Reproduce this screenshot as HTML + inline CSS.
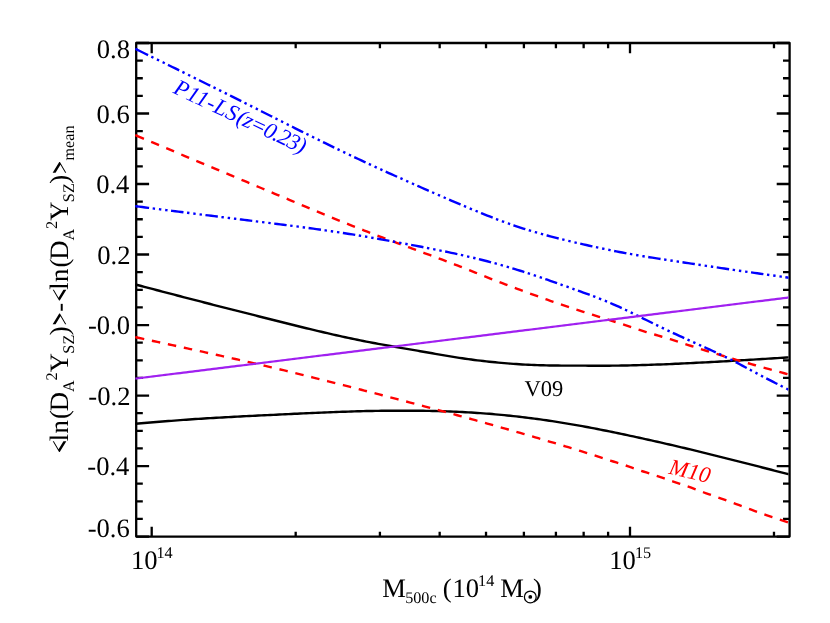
<!DOCTYPE html>
<html lang="en"><head><meta charset="utf-8"><title>SZ scaling relation comparison</title>
<style>html,body{margin:0;padding:0;background:#fff;}body{width:830px;height:623px;overflow:hidden;font-family:"Liberation Serif",serif;}svg{display:block;will-change:transform;}</style></head>
<body>
<svg width="830" height="623" viewBox="0 0 830 623">
<rect x="0" y="0" width="830" height="623" fill="#ffffff"/>
<defs><clipPath id="pc"><rect x="135.10" y="43.00" width="653.35" height="493.55"/></clipPath></defs>
<g stroke="#000" stroke-width="2.30" fill="none" stroke-linecap="butt">
<rect x="136.20" y="43.00" width="653.40" height="493.55" stroke-linejoin="round"/>
<path d="M136.20 43.00h12.90 M789.60 43.00h-12.90 M136.20 60.63h6.60 M789.60 60.63h-6.60 M136.20 78.25h6.60 M789.60 78.25h-6.60 M136.20 95.88h6.60 M789.60 95.88h-6.60 M136.20 113.51h12.90 M789.60 113.51h-12.90 M136.20 131.13h6.60 M789.60 131.13h-6.60 M136.20 148.76h6.60 M789.60 148.76h-6.60 M136.20 166.39h6.60 M789.60 166.39h-6.60 M136.20 184.01h12.90 M789.60 184.01h-12.90 M136.20 201.64h6.60 M789.60 201.64h-6.60 M136.20 219.27h6.60 M789.60 219.27h-6.60 M136.20 236.89h6.60 M789.60 236.89h-6.60 M136.20 254.52h12.90 M789.60 254.52h-12.90 M136.20 272.15h6.60 M789.60 272.15h-6.60 M136.20 289.78h6.60 M789.60 289.78h-6.60 M136.20 307.40h6.60 M789.60 307.40h-6.60 M136.20 325.03h12.90 M789.60 325.03h-12.90 M136.20 342.66h6.60 M789.60 342.66h-6.60 M136.20 360.28h6.60 M789.60 360.28h-6.60 M136.20 377.91h6.60 M789.60 377.91h-6.60 M136.20 395.54h12.90 M789.60 395.54h-12.90 M136.20 413.16h6.60 M789.60 413.16h-6.60 M136.20 430.79h6.60 M789.60 430.79h-6.60 M136.20 448.42h6.60 M789.60 448.42h-6.60 M136.20 466.04h12.90 M789.60 466.04h-12.90 M136.20 483.67h6.60 M789.60 483.67h-6.60 M136.20 501.30h6.60 M789.60 501.30h-6.60 M136.20 518.92h6.60 M789.60 518.92h-6.60 M136.20 536.55h12.90 M789.60 536.55h-12.90 M151.70 536.55v-9.80 M151.70 43.00v10.20 M295.68 536.55v-4.90 M295.68 43.00v5.30 M379.91 536.55v-4.90 M379.91 43.00v5.30 M439.67 536.55v-4.90 M439.67 43.00v5.30 M486.02 536.55v-4.90 M486.02 43.00v5.30 M523.89 536.55v-4.90 M523.89 43.00v5.30 M555.91 536.55v-4.90 M555.91 43.00v5.30 M583.65 536.55v-4.90 M583.65 43.00v5.30 M608.11 536.55v-4.90 M608.11 43.00v5.30 M630.00 536.55v-9.80 M630.00 43.00v10.20 M773.98 536.55v-4.90 M773.98 43.00v5.30 "/>
</g>
<g clip-path="url(#pc)" fill="none" stroke-width="2.40" stroke-linecap="butt" stroke-linejoin="round">
<path d="M135.30 284.44 L138.30 285.23 L141.30 286.02 L144.30 286.81 L147.30 287.60 L150.30 288.39 L153.30 289.18 L156.30 289.97 L159.30 290.76 L162.30 291.55 L165.30 292.34 L168.30 293.13 L171.30 293.91 L174.30 294.70 L177.30 295.49 L180.30 296.27 L183.30 297.05 L186.30 297.83 L189.30 298.61 L192.30 299.39 L195.30 300.17 L198.30 300.94 L201.30 301.71 L204.30 302.49 L207.30 303.26 L210.30 304.03 L213.30 304.79 L216.30 305.56 L219.30 306.32 L222.30 307.09 L225.30 307.85 L228.30 308.61 L231.30 309.38 L234.30 310.14 L237.30 310.90 L240.30 311.66 L243.30 312.42 L246.30 313.18 L249.30 313.94 L252.30 314.70 L255.30 315.46 L258.30 316.22 L261.30 316.98 L264.30 317.74 L267.30 318.50 L270.30 319.26 L273.30 320.02 L276.30 320.78 L279.30 321.53 L282.30 322.28 L285.30 323.03 L288.30 323.78 L291.30 324.53 L294.30 325.27 L297.30 326.01 L300.30 326.75 L303.30 327.48 L306.30 328.21 L309.30 328.93 L312.30 329.66 L315.30 330.37 L318.30 331.08 L321.30 331.79 L324.30 332.49 L327.30 333.18 L330.30 333.87 L333.30 334.55 L336.30 335.22 L339.30 335.89 L342.30 336.55 L345.30 337.21 L348.30 337.85 L351.30 338.49 L354.30 339.12 L357.30 339.74 L360.30 340.36 L363.30 340.96 L366.30 341.56 L369.30 342.14 L372.30 342.72 L375.30 343.28 L378.30 343.84 L381.30 344.39 L384.30 344.93 L387.30 345.46 L390.30 345.99 L393.30 346.52 L396.30 347.04 L399.30 347.56 L402.30 348.08 L405.30 348.60 L408.30 349.12 L411.30 349.64 L414.30 350.16 L417.30 350.68 L420.30 351.20 L423.30 351.72 L426.30 352.25 L429.30 352.77 L432.30 353.29 L435.30 353.82 L438.30 354.34 L441.30 354.86 L444.30 355.38 L447.30 355.89 L450.30 356.39 L453.30 356.88 L456.30 357.36 L459.30 357.83 L462.30 358.28 L465.30 358.72 L468.30 359.14 L471.30 359.55 L474.30 359.94 L477.30 360.32 L480.30 360.68 L483.30 361.03 L486.30 361.36 L489.30 361.69 L492.30 362.00 L495.30 362.30 L498.30 362.59 L501.30 362.86 L504.30 363.13 L507.30 363.38 L510.30 363.61 L513.30 363.84 L516.30 364.05 L519.30 364.25 L522.30 364.43 L525.30 364.61 L528.30 364.76 L531.30 364.90 L534.30 365.03 L537.30 365.14 L540.30 365.24 L543.30 365.32 L546.30 365.39 L549.30 365.45 L552.30 365.49 L555.30 365.53 L558.30 365.56 L561.30 365.58 L564.30 365.60 L567.30 365.61 L570.30 365.62 L573.30 365.63 L576.30 365.64 L579.30 365.65 L582.30 365.66 L585.30 365.67 L588.30 365.68 L591.30 365.69 L594.30 365.70 L597.30 365.71 L600.30 365.71 L603.30 365.71 L606.30 365.70 L609.30 365.69 L612.30 365.67 L615.30 365.65 L618.30 365.61 L621.30 365.57 L624.30 365.52 L627.30 365.46 L630.30 365.40 L633.30 365.32 L636.30 365.25 L639.30 365.16 L642.30 365.07 L645.30 364.98 L648.30 364.88 L651.30 364.78 L654.30 364.67 L657.30 364.56 L660.30 364.45 L663.30 364.33 L666.30 364.21 L669.30 364.08 L672.30 363.95 L675.30 363.82 L678.30 363.69 L681.30 363.55 L684.30 363.41 L687.30 363.27 L690.30 363.12 L693.30 362.97 L696.30 362.82 L699.30 362.67 L702.30 362.51 L705.30 362.36 L708.30 362.20 L711.30 362.03 L714.30 361.87 L717.30 361.70 L720.30 361.53 L723.30 361.36 L726.30 361.19 L729.30 361.02 L732.30 360.84 L735.30 360.66 L738.30 360.49 L741.30 360.31 L744.30 360.13 L747.30 359.94 L750.30 359.76 L753.30 359.58 L756.30 359.39 L759.30 359.21 L762.30 359.02 L765.30 358.83 L768.30 358.64 L771.30 358.46 L774.30 358.27 L777.30 358.08 L780.30 357.89 L783.30 357.70 L786.30 357.51 L789.30 357.32 L790.60 357.24" stroke="#000"/>
<path d="M135.30 423.78 L138.30 423.53 L141.30 423.28 L144.30 423.03 L147.30 422.78 L150.30 422.53 L153.30 422.28 L156.30 422.03 L159.30 421.79 L162.30 421.54 L165.30 421.30 L168.30 421.06 L171.30 420.83 L174.30 420.59 L177.30 420.36 L180.30 420.14 L183.30 419.92 L186.30 419.70 L189.30 419.49 L192.30 419.28 L195.30 419.07 L198.30 418.87 L201.30 418.68 L204.30 418.49 L207.30 418.30 L210.30 418.12 L213.30 417.94 L216.30 417.77 L219.30 417.60 L222.30 417.43 L225.30 417.26 L228.30 417.10 L231.30 416.94 L234.30 416.78 L237.30 416.63 L240.30 416.47 L243.30 416.32 L246.30 416.17 L249.30 416.02 L252.30 415.86 L255.30 415.72 L258.30 415.57 L261.30 415.42 L264.30 415.27 L267.30 415.12 L270.30 414.97 L273.30 414.83 L276.30 414.68 L279.30 414.54 L282.30 414.39 L285.30 414.25 L288.30 414.11 L291.30 413.96 L294.30 413.82 L297.30 413.68 L300.30 413.55 L303.30 413.41 L306.30 413.27 L309.30 413.14 L312.30 413.00 L315.30 412.87 L318.30 412.74 L321.30 412.61 L324.30 412.49 L327.30 412.36 L330.30 412.24 L333.30 412.12 L336.30 412.01 L339.30 411.89 L342.30 411.79 L345.30 411.68 L348.30 411.58 L351.30 411.48 L354.30 411.39 L357.30 411.30 L360.30 411.22 L363.30 411.15 L366.30 411.07 L369.30 411.01 L372.30 410.95 L375.30 410.90 L378.30 410.85 L381.30 410.81 L384.30 410.78 L387.30 410.75 L390.30 410.73 L393.30 410.71 L396.30 410.70 L399.30 410.69 L402.30 410.69 L405.30 410.70 L408.30 410.70 L411.30 410.72 L414.30 410.73 L417.30 410.76 L420.30 410.79 L423.30 410.82 L426.30 410.87 L429.30 410.92 L432.30 410.97 L435.30 411.04 L438.30 411.11 L441.30 411.19 L444.30 411.29 L447.30 411.39 L450.30 411.50 L453.30 411.62 L456.30 411.75 L459.30 411.89 L462.30 412.04 L465.30 412.20 L468.30 412.36 L471.30 412.54 L474.30 412.73 L477.30 412.93 L480.30 413.14 L483.30 413.36 L486.30 413.58 L489.30 413.82 L492.30 414.07 L495.30 414.33 L498.30 414.60 L501.30 414.88 L504.30 415.17 L507.30 415.47 L510.30 415.78 L513.30 416.10 L516.30 416.43 L519.30 416.77 L522.30 417.12 L525.30 417.48 L528.30 417.85 L531.30 418.23 L534.30 418.62 L537.30 419.02 L540.30 419.43 L543.30 419.85 L546.30 420.28 L549.30 420.72 L552.30 421.17 L555.30 421.63 L558.30 422.09 L561.30 422.57 L564.30 423.06 L567.30 423.56 L570.30 424.06 L573.30 424.58 L576.30 425.10 L579.30 425.64 L582.30 426.18 L585.30 426.73 L588.30 427.29 L591.30 427.86 L594.30 428.43 L597.30 429.01 L600.30 429.60 L603.30 430.20 L606.30 430.80 L609.30 431.41 L612.30 432.02 L615.30 432.64 L618.30 433.26 L621.30 433.89 L624.30 434.53 L627.30 435.16 L630.30 435.81 L633.30 436.45 L636.30 437.10 L639.30 437.75 L642.30 438.41 L645.30 439.07 L648.30 439.74 L651.30 440.41 L654.30 441.08 L657.30 441.75 L660.30 442.43 L663.30 443.12 L666.30 443.81 L669.30 444.50 L672.30 445.20 L675.30 445.90 L678.30 446.60 L681.30 447.31 L684.30 448.02 L687.30 448.73 L690.30 449.45 L693.30 450.17 L696.30 450.90 L699.30 451.63 L702.30 452.36 L705.30 453.10 L708.30 453.83 L711.30 454.57 L714.30 455.32 L717.30 456.06 L720.30 456.81 L723.30 457.56 L726.30 458.31 L729.30 459.07 L732.30 459.82 L735.30 460.58 L738.30 461.34 L741.30 462.10 L744.30 462.87 L747.30 463.63 L750.30 464.39 L753.30 465.16 L756.30 465.93 L759.30 466.70 L762.30 467.47 L765.30 468.24 L768.30 469.01 L771.30 469.78 L774.30 470.55 L777.30 471.33 L780.30 472.10 L783.30 472.87 L786.30 473.65 L789.30 474.42 L790.60 474.76" stroke="#000"/>
<path d="M136.30 135.60 L139.30 136.86 L142.30 138.12 L145.30 139.38 L148.30 140.64 L151.30 141.90 L154.30 143.17 L157.30 144.43 L160.30 145.69 L163.30 146.95 L166.30 148.21 L169.30 149.47 L172.30 150.73 L175.30 151.99 L178.30 153.25 L181.30 154.51 L184.30 155.77 L187.30 157.03 L190.30 158.29 L193.30 159.55 L196.30 160.81 L199.30 162.07 L202.30 163.33 L205.30 164.59 L208.30 165.85 L211.30 167.11 L214.30 168.37 L217.30 169.63 L220.30 170.89 L223.30 172.15 L226.30 173.41 L229.30 174.67 L232.30 175.93 L235.30 177.19 L238.30 178.44 L241.30 179.70 L244.30 180.96 L247.30 182.22 L250.30 183.48 L253.30 184.74 L256.30 185.99 L259.30 187.25 L262.30 188.51 L265.30 189.77 L268.30 191.02 L271.30 192.28 L274.30 193.54 L277.30 194.79 L280.30 196.05 L283.30 197.31 L286.30 198.56 L289.30 199.82 L292.30 201.07 L295.30 202.33 L298.30 203.58 L301.30 204.84 L304.30 206.09 L307.30 207.35 L310.30 208.60 L313.30 209.85 L316.30 211.10 L319.30 212.35 L322.30 213.60 L325.30 214.84 L328.30 216.08 L331.30 217.32 L334.30 218.55 L337.30 219.78 L340.30 221.00 L343.30 222.21 L346.30 223.42 L349.30 224.63 L352.30 225.82 L355.30 227.01 L358.30 228.20 L361.30 229.37 L364.30 230.54 L367.30 231.70 L370.30 232.86 L373.30 234.01 L376.30 235.15 L379.30 236.29 L382.30 237.43 L385.30 238.56 L388.30 239.68 L391.30 240.81 L394.30 241.93 L397.30 243.04 L400.30 244.16 L403.30 245.27 L406.30 246.38 L409.30 247.49 L412.30 248.59 L415.30 249.70 L418.30 250.80 L421.30 251.91 L424.30 253.01 L427.30 254.12 L430.30 255.23 L433.30 256.34 L436.30 257.45 L439.30 258.57 L442.30 259.70 L445.30 260.83 L448.30 261.97 L451.30 263.11 L454.30 264.27 L457.30 265.43 L460.30 266.61 L463.30 267.79 L466.30 268.98 L469.30 270.17 L472.30 271.36 L475.30 272.56 L478.30 273.76 L481.30 274.95 L484.30 276.15 L487.30 277.33 L490.30 278.52 L493.30 279.69 L496.30 280.86 L499.30 282.03 L502.30 283.18 L505.30 284.33 L508.30 285.48 L511.30 286.61 L514.30 287.74 L517.30 288.86 L520.30 289.98 L523.30 291.09 L526.30 292.19 L529.30 293.29 L532.30 294.37 L535.30 295.46 L538.30 296.53 L541.30 297.60 L544.30 298.66 L547.30 299.72 L550.30 300.77 L553.30 301.81 L556.30 302.84 L559.30 303.87 L562.30 304.89 L565.30 305.90 L568.30 306.91 L571.30 307.91 L574.30 308.90 L577.30 309.88 L580.30 310.86 L583.30 311.83 L586.30 312.79 L589.30 313.75 L592.30 314.69 L595.30 315.63 L598.30 316.57 L601.30 317.50 L604.30 318.44 L607.30 319.37 L610.30 320.31 L613.30 321.26 L616.30 322.22 L619.30 323.19 L622.30 324.17 L625.30 325.18 L628.30 326.19 L631.30 327.21 L634.30 328.23 L637.30 329.24 L640.30 330.22 L643.30 331.17 L646.30 332.10 L649.30 333.00 L652.30 333.89 L655.30 334.77 L658.30 335.64 L661.30 336.51 L664.30 337.38 L667.30 338.28 L670.30 339.19 L673.30 340.13 L676.30 341.10 L679.30 342.08 L682.30 343.06 L685.30 344.05 L688.30 345.03 L691.30 346.01 L694.30 346.97 L697.30 347.93 L700.30 348.88 L703.30 349.83 L706.30 350.77 L709.30 351.70 L712.30 352.63 L715.30 353.54 L718.30 354.46 L721.30 355.36 L724.30 356.26 L727.30 357.16 L730.30 358.05 L733.30 358.93 L736.30 359.81 L739.30 360.68 L742.30 361.55 L745.30 362.41 L748.30 363.27 L751.30 364.13 L754.30 364.98 L757.30 365.82 L760.30 366.66 L763.30 367.50 L766.30 368.33 L769.30 369.16 L772.30 369.98 L775.30 370.81 L778.30 371.63 L781.30 372.44 L784.30 373.26 L787.30 374.08 L790.30 374.89 L790.60 374.97" stroke="#ff0000" stroke-dasharray="8.5 7.83" stroke-dashoffset="0.20"/>
<path d="M135.20 135.14 L137.60 136.15" stroke="#ff0000"/>
<path d="M136.30 337.40 L139.30 338.04 L142.30 338.69 L145.30 339.33 L148.30 339.98 L151.30 340.62 L154.30 341.26 L157.30 341.91 L160.30 342.56 L163.30 343.20 L166.30 343.85 L169.30 344.50 L172.30 345.14 L175.30 345.79 L178.30 346.44 L181.30 347.09 L184.30 347.74 L187.30 348.40 L190.30 349.05 L193.30 349.70 L196.30 350.36 L199.30 351.02 L202.30 351.68 L205.30 352.33 L208.30 353.00 L211.30 353.66 L214.30 354.32 L217.30 354.99 L220.30 355.66 L223.30 356.33 L226.30 357.00 L229.30 357.67 L232.30 358.35 L235.30 359.02 L238.30 359.70 L241.30 360.38 L244.30 361.07 L247.30 361.75 L250.30 362.44 L253.30 363.13 L256.30 363.83 L259.30 364.52 L262.30 365.22 L265.30 365.92 L268.30 366.63 L271.30 367.33 L274.30 368.04 L277.30 368.75 L280.30 369.47 L283.30 370.19 L286.30 370.91 L289.30 371.63 L292.30 372.36 L295.30 373.09 L298.30 373.83 L301.30 374.56 L304.30 375.30 L307.30 376.05 L310.30 376.79 L313.30 377.54 L316.30 378.29 L319.30 379.04 L322.30 379.80 L325.30 380.55 L328.30 381.31 L331.30 382.08 L334.30 382.84 L337.30 383.60 L340.30 384.37 L343.30 385.14 L346.30 385.91 L349.30 386.68 L352.30 387.45 L355.30 388.22 L358.30 388.99 L361.30 389.77 L364.30 390.54 L367.30 391.32 L370.30 392.10 L373.30 392.88 L376.30 393.66 L379.30 394.44 L382.30 395.22 L385.30 396.00 L388.30 396.79 L391.30 397.57 L394.30 398.36 L397.30 399.15 L400.30 399.94 L403.30 400.73 L406.30 401.52 L409.30 402.31 L412.30 403.11 L415.30 403.91 L418.30 404.70 L421.30 405.50 L424.30 406.30 L427.30 407.11 L430.30 407.91 L433.30 408.72 L436.30 409.53 L439.30 410.34 L442.30 411.15 L445.30 411.96 L448.30 412.78 L451.30 413.59 L454.30 414.41 L457.30 415.23 L460.30 416.06 L463.30 416.88 L466.30 417.71 L469.30 418.53 L472.30 419.37 L475.30 420.20 L478.30 421.03 L481.30 421.87 L484.30 422.71 L487.30 423.55 L490.30 424.39 L493.30 425.24 L496.30 426.09 L499.30 426.94 L502.30 427.79 L505.30 428.65 L508.30 429.50 L511.30 430.36 L514.30 431.23 L517.30 432.09 L520.30 432.96 L523.30 433.83 L526.30 434.70 L529.30 435.58 L532.30 436.46 L535.30 437.34 L538.30 438.22 L541.30 439.11 L544.30 440.00 L547.30 440.89 L550.30 441.78 L553.30 442.68 L556.30 443.58 L559.30 444.48 L562.30 445.39 L565.30 446.30 L568.30 447.21 L571.30 448.13 L574.30 449.05 L577.30 449.98 L580.30 450.92 L583.30 451.86 L586.30 452.81 L589.30 453.77 L592.30 454.73 L595.30 455.70 L598.30 456.67 L601.30 457.64 L604.30 458.61 L607.30 459.58 L610.30 460.54 L613.30 461.49 L616.30 462.44 L619.30 463.40 L622.30 464.37 L625.30 465.37 L628.30 466.38 L631.30 467.41 L634.30 468.45 L637.30 469.49 L640.30 470.51 L643.30 471.50 L646.30 472.46 L649.30 473.42 L652.30 474.38 L655.30 475.36 L658.30 476.36 L661.30 477.38 L664.30 478.43 L667.30 479.48 L670.30 480.53 L673.30 481.56 L676.30 482.57 L679.30 483.56 L682.30 484.54 L685.30 485.54 L688.30 486.57 L691.30 487.64 L694.30 488.78 L697.30 489.93 L700.30 491.10 L703.30 492.25 L706.30 493.35 L709.30 494.42 L712.30 495.45 L715.30 496.47 L718.30 497.50 L721.30 498.55 L724.30 499.63 L727.30 500.74 L730.30 501.85 L733.30 502.97 L736.30 504.09 L739.30 505.21 L742.30 506.32 L745.30 507.42 L748.30 508.53 L751.30 509.64 L754.30 510.76 L757.30 511.87 L760.30 512.97 L763.30 514.06 L766.30 515.13 L769.30 516.18 L772.30 517.21 L775.30 518.22 L778.30 519.21 L781.30 520.20 L784.30 521.18 L787.30 522.15 L790.30 523.13 L790.60 523.22" stroke="#ff0000" stroke-dasharray="8.5 7.84" stroke-dashoffset="0.40"/>
<path d="M135.20 337.16 L137.60 337.68" stroke="#ff0000"/>
<path d="M136.30 49.30 L139.30 50.77 L142.30 52.24 L145.30 53.71 L148.30 55.18 L151.30 56.65 L154.30 58.13 L157.30 59.60 L160.30 61.07 L163.30 62.54 L166.30 64.02 L169.30 65.49 L172.30 66.96 L175.30 68.44 L178.30 69.91 L181.30 71.39 L184.30 72.87 L187.30 74.34 L190.30 75.82 L193.30 77.30 L196.30 78.78 L199.30 80.26 L202.30 81.75 L205.30 83.23 L208.30 84.72 L211.30 86.20 L214.30 87.69 L217.30 89.18 L220.30 90.67 L223.30 92.16 L226.30 93.65 L229.30 95.15 L232.30 96.65 L235.30 98.14 L238.30 99.64 L241.30 101.15 L244.30 102.65 L247.30 104.15 L250.30 105.66 L253.30 107.17 L256.30 108.68 L259.30 110.19 L262.30 111.70 L265.30 113.21 L268.30 114.73 L271.30 116.24 L274.30 117.75 L277.30 119.26 L280.30 120.77 L283.30 122.28 L286.30 123.79 L289.30 125.30 L292.30 126.80 L295.30 128.31 L298.30 129.81 L301.30 131.31 L304.30 132.80 L307.30 134.30 L310.30 135.79 L313.30 137.28 L316.30 138.76 L319.30 140.24 L322.30 141.72 L325.30 143.19 L328.30 144.65 L331.30 146.12 L334.30 147.57 L337.30 149.02 L340.30 150.47 L343.30 151.91 L346.30 153.35 L349.30 154.78 L352.30 156.20 L355.30 157.61 L358.30 159.02 L361.30 160.42 L364.30 161.82 L367.30 163.21 L370.30 164.59 L373.30 165.97 L376.30 167.35 L379.30 168.71 L382.30 170.08 L385.30 171.44 L388.30 172.79 L391.30 174.15 L394.30 175.49 L397.30 176.84 L400.30 178.18 L403.30 179.52 L406.30 180.86 L409.30 182.19 L412.30 183.52 L415.30 184.85 L418.30 186.18 L421.30 187.50 L424.30 188.82 L427.30 190.14 L430.30 191.46 L433.30 192.77 L436.30 194.08 L439.30 195.38 L442.30 196.68 L445.30 197.98 L448.30 199.27 L451.30 200.56 L454.30 201.84 L457.30 203.12 L460.30 204.39 L463.30 205.66 L466.30 206.92 L469.30 208.17 L472.30 209.42 L475.30 210.66 L478.30 211.89 L481.30 213.11 L484.30 214.32 L487.30 215.52 L490.30 216.70 L493.30 217.87 L496.30 219.02 L499.30 220.16 L502.30 221.28 L505.30 222.38 L508.30 223.46 L511.30 224.51 L514.30 225.55 L517.30 226.57 L520.30 227.56 L523.30 228.53 L526.30 229.47 L529.30 230.39 L532.30 231.30 L535.30 232.18 L538.30 233.04 L541.30 233.89 L544.30 234.71 L547.30 235.53 L550.30 236.32 L553.30 237.11 L556.30 237.88 L559.30 238.63 L562.30 239.38 L565.30 240.12 L568.30 240.84 L571.30 241.56 L574.30 242.27 L577.30 242.97 L580.30 243.67 L583.30 244.36 L586.30 245.04 L589.30 245.71 L592.30 246.38 L595.30 247.04 L598.30 247.68 L601.30 248.32 L604.30 248.95 L607.30 249.58 L610.30 250.19 L613.30 250.79 L616.30 251.38 L619.30 251.96 L622.30 252.53 L625.30 253.09 L628.30 253.64 L631.30 254.17 L634.30 254.70 L637.30 255.22 L640.30 255.72 L643.30 256.22 L646.30 256.71 L649.30 257.20 L652.30 257.67 L655.30 258.15 L658.30 258.61 L661.30 259.08 L664.30 259.53 L667.30 259.99 L670.30 260.44 L673.30 260.89 L676.30 261.34 L679.30 261.79 L682.30 262.25 L685.30 262.70 L688.30 263.15 L691.30 263.60 L694.30 264.05 L697.30 264.50 L700.30 264.95 L703.30 265.40 L706.30 265.85 L709.30 266.30 L712.30 266.75 L715.30 267.19 L718.30 267.64 L721.30 268.08 L724.30 268.53 L727.30 268.97 L730.30 269.41 L733.30 269.84 L736.30 270.28 L739.30 270.71 L742.30 271.14 L745.30 271.57 L748.30 272.00 L751.30 272.43 L754.30 272.86 L757.30 273.28 L760.30 273.70 L763.30 274.13 L766.30 274.55 L769.30 274.97 L772.30 275.39 L775.30 275.81 L778.30 276.23 L781.30 276.64 L784.30 277.06 L787.30 277.48 L790.30 277.90 L790.60 277.94" stroke="#0000ff" stroke-dasharray="12.5 3.6 2.4 3.9 2.4 3.9 2.4 3.55" stroke-dashoffset="-0.60"/>
<path d="M135.20 48.76 L137.60 49.94" stroke="#0000ff"/>
<path d="M136.30 206.30 L139.30 206.68 L142.30 207.06 L145.30 207.45 L148.30 207.83 L151.30 208.21 L154.30 208.59 L157.30 208.97 L160.30 209.36 L163.30 209.74 L166.30 210.12 L169.30 210.50 L172.30 210.88 L175.30 211.26 L178.30 211.64 L181.30 212.02 L184.30 212.40 L187.30 212.78 L190.30 213.16 L193.30 213.54 L196.30 213.92 L199.30 214.30 L202.30 214.68 L205.30 215.05 L208.30 215.43 L211.30 215.81 L214.30 216.18 L217.30 216.56 L220.30 216.93 L223.30 217.31 L226.30 217.68 L229.30 218.06 L232.30 218.43 L235.30 218.80 L238.30 219.17 L241.30 219.54 L244.30 219.91 L247.30 220.28 L250.30 220.65 L253.30 221.02 L256.30 221.39 L259.30 221.76 L262.30 222.13 L265.30 222.50 L268.30 222.87 L271.30 223.24 L274.30 223.61 L277.30 223.99 L280.30 224.36 L283.30 224.74 L286.30 225.12 L289.30 225.50 L292.30 225.89 L295.30 226.27 L298.30 226.66 L301.30 227.06 L304.30 227.45 L307.30 227.85 L310.30 228.26 L313.30 228.66 L316.30 229.08 L319.30 229.49 L322.30 229.91 L325.30 230.34 L328.30 230.77 L331.30 231.21 L334.30 231.65 L337.30 232.10 L340.30 232.55 L343.30 233.01 L346.30 233.47 L349.30 233.95 L352.30 234.43 L355.30 234.91 L358.30 235.40 L361.30 235.90 L364.30 236.41 L367.30 236.92 L370.30 237.44 L373.30 237.96 L376.30 238.49 L379.30 239.02 L382.30 239.56 L385.30 240.10 L388.30 240.65 L391.30 241.19 L394.30 241.74 L397.30 242.30 L400.30 242.85 L403.30 243.41 L406.30 243.97 L409.30 244.53 L412.30 245.09 L415.30 245.66 L418.30 246.22 L421.30 246.79 L424.30 247.37 L427.30 247.95 L430.30 248.53 L433.30 249.12 L436.30 249.72 L439.30 250.32 L442.30 250.93 L445.30 251.55 L448.30 252.17 L451.30 252.81 L454.30 253.45 L457.30 254.10 L460.30 254.77 L463.30 255.44 L466.30 256.13 L469.30 256.83 L472.30 257.54 L475.30 258.26 L478.30 259.00 L481.30 259.74 L484.30 260.50 L487.30 261.28 L490.30 262.07 L493.30 262.87 L496.30 263.68 L499.30 264.51 L502.30 265.36 L505.30 266.22 L508.30 267.10 L511.30 267.99 L514.30 268.90 L517.30 269.82 L520.30 270.76 L523.30 271.71 L526.30 272.67 L529.30 273.65 L532.30 274.64 L535.30 275.64 L538.30 276.66 L541.30 277.68 L544.30 278.71 L547.30 279.74 L550.30 280.79 L553.30 281.84 L556.30 282.90 L559.30 283.96 L562.30 285.02 L565.30 286.09 L568.30 287.16 L571.30 288.23 L574.30 289.31 L577.30 290.38 L580.30 291.46 L583.30 292.54 L586.30 293.63 L589.30 294.74 L592.30 295.85 L595.30 296.99 L598.30 298.14 L601.30 299.31 L604.30 300.51 L607.30 301.74 L610.30 302.99 L613.30 304.28 L616.30 305.61 L619.30 306.96 L622.30 308.35 L625.30 309.76 L628.30 311.19 L631.30 312.64 L634.30 314.11 L637.30 315.59 L640.30 317.07 L643.30 318.56 L646.30 320.05 L649.30 321.53 L652.30 323.01 L655.30 324.48 L658.30 325.94 L661.30 327.38 L664.30 328.81 L667.30 330.24 L670.30 331.65 L673.30 333.05 L676.30 334.45 L679.30 335.83 L682.30 337.21 L685.30 338.58 L688.30 339.94 L691.30 341.30 L694.30 342.65 L697.30 343.99 L700.30 345.34 L703.30 346.68 L706.30 348.03 L709.30 349.38 L712.30 350.75 L715.30 352.13 L718.30 353.52 L721.30 354.94 L724.30 356.38 L727.30 357.84 L730.30 359.33 L733.30 360.85 L736.30 362.41 L739.30 363.99 L742.30 365.59 L745.30 367.21 L748.30 368.83 L751.30 370.44 L754.30 372.05 L757.30 373.65 L760.30 375.23 L763.30 376.80 L766.30 378.35 L769.30 379.90 L772.30 381.44 L775.30 382.97 L778.30 384.49 L781.30 386.01 L784.30 387.53 L787.30 389.04 L790.30 390.55 L790.60 390.70" stroke="#0000ff" stroke-dasharray="12.5 3.6 2.4 3.9 2.4 3.9 2.4 3.55" stroke-dashoffset="-0.40"/>
<path d="M135.20 206.16 L137.60 206.47" stroke="#0000ff"/>
<path d="M135.30 378.62 L138.30 378.25 L141.30 377.88 L144.30 377.51 L147.30 377.13 L150.30 376.76 L153.30 376.39 L156.30 376.02 L159.30 375.64 L162.30 375.27 L165.30 374.90 L168.30 374.53 L171.30 374.16 L174.30 373.78 L177.30 373.41 L180.30 373.04 L183.30 372.67 L186.30 372.29 L189.30 371.92 L192.30 371.55 L195.30 371.18 L198.30 370.80 L201.30 370.43 L204.30 370.06 L207.30 369.69 L210.30 369.31 L213.30 368.94 L216.30 368.57 L219.30 368.20 L222.30 367.82 L225.30 367.45 L228.30 367.08 L231.30 366.71 L234.30 366.33 L237.30 365.96 L240.30 365.59 L243.30 365.22 L246.30 364.84 L249.30 364.47 L252.30 364.10 L255.30 363.73 L258.30 363.36 L261.30 362.98 L264.30 362.61 L267.30 362.24 L270.30 361.87 L273.30 361.49 L276.30 361.12 L279.30 360.75 L282.30 360.38 L285.30 360.00 L288.30 359.63 L291.30 359.26 L294.30 358.89 L297.30 358.51 L300.30 358.14 L303.30 357.77 L306.30 357.40 L309.30 357.02 L312.30 356.65 L315.30 356.28 L318.30 355.91 L321.30 355.53 L324.30 355.16 L327.30 354.79 L330.30 354.42 L333.30 354.04 L336.30 353.67 L339.30 353.30 L342.30 352.93 L345.30 352.55 L348.30 352.18 L351.30 351.81 L354.30 351.44 L357.30 351.07 L360.30 350.69 L363.30 350.32 L366.30 349.95 L369.30 349.58 L372.30 349.20 L375.30 348.83 L378.30 348.46 L381.30 348.09 L384.30 347.71 L387.30 347.34 L390.30 346.97 L393.30 346.60 L396.30 346.22 L399.30 345.85 L402.30 345.48 L405.30 345.11 L408.30 344.73 L411.30 344.36 L414.30 343.99 L417.30 343.62 L420.30 343.24 L423.30 342.87 L426.30 342.50 L429.30 342.13 L432.30 341.75 L435.30 341.38 L438.30 341.01 L441.30 340.64 L444.30 340.27 L447.30 339.89 L450.30 339.52 L453.30 339.15 L456.30 338.78 L459.30 338.40 L462.30 338.03 L465.30 337.66 L468.30 337.29 L471.30 336.91 L474.30 336.54 L477.30 336.17 L480.30 335.80 L483.30 335.42 L486.30 335.05 L489.30 334.68 L492.30 334.31 L495.30 333.93 L498.30 333.56 L501.30 333.19 L504.30 332.82 L507.30 332.44 L510.30 332.07 L513.30 331.70 L516.30 331.33 L519.30 330.95 L522.30 330.58 L525.30 330.21 L528.30 329.84 L531.30 329.47 L534.30 329.09 L537.30 328.72 L540.30 328.35 L543.30 327.98 L546.30 327.60 L549.30 327.23 L552.30 326.86 L555.30 326.49 L558.30 326.11 L561.30 325.74 L564.30 325.37 L567.30 325.00 L570.30 324.62 L573.30 324.25 L576.30 323.88 L579.30 323.51 L582.30 323.13 L585.30 322.76 L588.30 322.39 L591.30 322.02 L594.30 321.64 L597.30 321.27 L600.30 320.90 L603.30 320.53 L606.30 320.15 L609.30 319.78 L612.30 319.41 L615.30 319.04 L618.30 318.67 L621.30 318.29 L624.30 317.92 L627.30 317.55 L630.30 317.18 L633.30 316.80 L636.30 316.43 L639.30 316.06 L642.30 315.69 L645.30 315.31 L648.30 314.94 L651.30 314.57 L654.30 314.20 L657.30 313.82 L660.30 313.45 L663.30 313.08 L666.30 312.71 L669.30 312.33 L672.30 311.96 L675.30 311.59 L678.30 311.22 L681.30 310.84 L684.30 310.47 L687.30 310.10 L690.30 309.73 L693.30 309.35 L696.30 308.98 L699.30 308.61 L702.30 308.24 L705.30 307.86 L708.30 307.49 L711.30 307.12 L714.30 306.75 L717.30 306.38 L720.30 306.00 L723.30 305.63 L726.30 305.26 L729.30 304.89 L732.30 304.51 L735.30 304.14 L738.30 303.77 L741.30 303.40 L744.30 303.02 L747.30 302.65 L750.30 302.28 L753.30 301.91 L756.30 301.53 L759.30 301.16 L762.30 300.79 L765.30 300.42 L768.30 300.04 L771.30 299.67 L774.30 299.30 L777.30 298.93 L780.30 298.55 L783.30 298.18 L786.30 297.81 L789.30 297.44 L790.60 297.28" stroke="#a020f0" stroke-width="2.2"/>
</g>
<g font-family="'Liberation Serif', serif" fill="#000" text-rendering="geometricPrecision">
<text x="96.75" y="58.10" font-size="26.60">0.8</text>
<text x="96.55" y="122.71" font-size="26.60">0.6</text>
<text x="96.15" y="193.21" font-size="26.60">0.4</text>
<text x="97.21" y="263.72" font-size="26.60">0.2</text>
<text x="87.90" y="334.23" font-size="26.60">-0.0</text>
<text x="88.37" y="404.74" font-size="26.60">-0.2</text>
<text x="87.30" y="475.24" font-size="26.60">-0.4</text>
<text x="87.70" y="536.65" font-size="26.60">-0.6</text>
<text x="130.98" y="569.30" font-size="26.60">10</text>
<text x="156.51" y="558.00" font-size="16.20">14</text>
<text x="609.28" y="569.30" font-size="26.60">10</text>
<text x="635.02" y="558.00" font-size="16.20">15</text>
<text x="382.16" y="597.20" font-size="26.60">M</text>
<text x="405.14" y="603.00" font-size="16.20">500c</text>
<text x="442.81" y="597.20" font-size="26.60">(</text>
<text x="452.54" y="597.20" font-size="26.60">10</text>
<text x="478.11" y="586.20" font-size="16.20">14</text>
<text x="500.16" y="597.20" font-size="26.60">M</text>
<text x="533.11" y="597.20" font-size="26.60">)</text>
<circle cx="530.3" cy="596.9" r="5.9" fill="none" stroke="#000" stroke-width="1.25"/>
<circle cx="530.3" cy="596.9" r="1.9" fill="#000"/>
<g transform="translate(67.70 452.50) rotate(-90)">
<text x="11.36" y="0.00" font-size="26.60">l</text>
<text x="18.95" y="0.00" font-size="26.60">n</text>
<text x="33.51" y="0.00" font-size="26.60">(</text>
<text x="41.37" y="0.00" font-size="26.60">D</text>
<text x="60.43" y="6.20" font-size="16.20">A</text>
<text x="72.08" y="-10.90" font-size="16.20">2</text>
<text x="80.21" y="0.00" font-size="26.60">Y</text>
<text x="98.79" y="6.20" font-size="16.20">S</text>
<text x="107.92" y="6.20" font-size="16.20">Z</text>
<text x="117.21" y="0.00" font-size="26.60">)</text>
<text x="162.86" y="0.00" font-size="26.60">l</text>
<text x="170.45" y="0.00" font-size="26.60">n</text>
<text x="185.01" y="0.00" font-size="26.60">(</text>
<text x="192.87" y="0.00" font-size="26.60">D</text>
<text x="211.93" y="6.20" font-size="16.20">A</text>
<text x="223.58" y="-10.90" font-size="16.20">2</text>
<text x="231.71" y="0.00" font-size="26.60">Y</text>
<text x="250.29" y="6.20" font-size="16.20">S</text>
<text x="259.42" y="6.20" font-size="16.20">Z</text>
<text x="268.71" y="0.00" font-size="26.60">)</text>
<text x="140.69" y="0.00" font-size="26.60">-</text>
<text x="292.02" y="6.20" font-size="16.20">mean</text>
</g>
<polygon points="52.65,172.70 59.25,161.90 59.95,161.90 66.25,172.70 65.15,172.70 60.45,164.70 55.55,172.70"/>
<polygon points="66.35,289.80 59.75,300.60 59.05,300.60 52.75,289.80 53.85,289.80 58.55,297.80 63.45,289.80"/>
<polygon points="52.65,324.20 59.25,313.40 59.95,313.40 66.25,324.20 65.15,324.20 60.45,316.20 55.55,324.20"/>
<polygon points="66.35,441.30 59.75,452.10 59.05,452.10 52.75,441.30 53.85,441.30 58.55,449.30 63.45,441.30"/>
<text x="524.53" y="396.00" font-size="22.50">V09</text>
<text transform="translate(667.80 473.50) rotate(13.20)" x="0.28" y="0" font-size="22.60" font-style="italic" fill="#ff0000">M10</text>
<g transform="translate(172.05 92.5) rotate(25.3)" font-size="22.80" font-style="italic" fill="#0000ff">
<text x="0.11" y="0" letter-spacing="0.4">P11-LS</text>
<text x="70.0" y="0" letter-spacing="-0.8">(z=0.23)</text>
</g>
</g>
</svg>
</body></html>
